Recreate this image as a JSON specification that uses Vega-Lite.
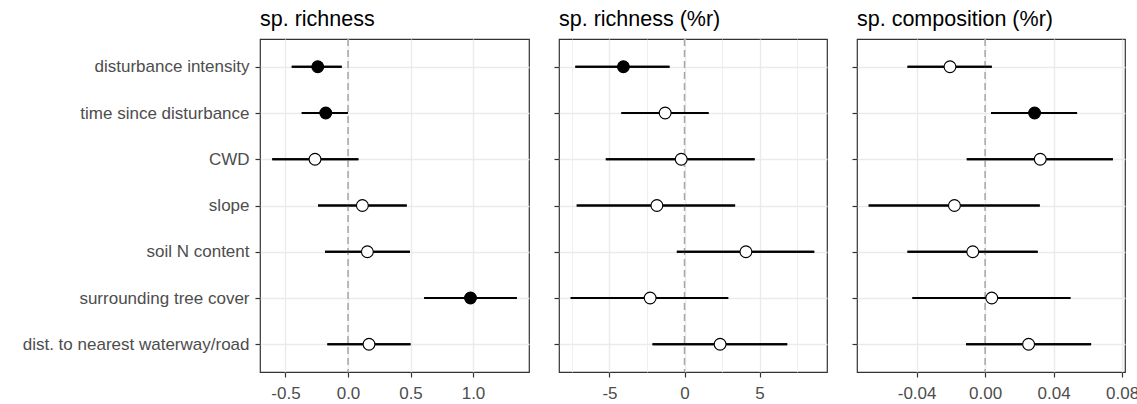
{
  "$schema": "https://vega.github.io/schema/vega-lite/v6.json",
  "padding": {"left": 21, "top": 8, "right": 0, "bottom": 0},
  "background": "white",
  "datasets": {
    "coefs": [
      {"panel": "sp. richness", "var": "disturbance intensity", "est": -0.242, "lo": -0.45, "hi": -0.05, "sig": "yes"},
      {"panel": "sp. richness", "var": "time since disturbance", "est": -0.178, "lo": -0.37, "hi": -0.002, "sig": "yes"},
      {"panel": "sp. richness", "var": "CWD", "est": -0.264, "lo": -0.606, "hi": 0.083, "sig": "no"},
      {"panel": "sp. richness", "var": "slope", "est": 0.115, "lo": -0.24, "hi": 0.47, "sig": "no"},
      {"panel": "sp. richness", "var": "soil N content", "est": 0.155, "lo": -0.184, "hi": 0.496, "sig": "no"},
      {"panel": "sp. richness", "var": "surrounding tree cover", "est": 0.98, "lo": 0.61, "hi": 1.35, "sig": "yes"},
      {"panel": "sp. richness", "var": "dist. to nearest waterway/road", "est": 0.168, "lo": -0.165, "hi": 0.5, "sig": "no"},
      {"panel": "sp. richness (%r)", "var": "disturbance intensity", "est": -4.07, "lo": -7.27, "hi": -1.0, "sig": "yes"},
      {"panel": "sp. richness (%r)", "var": "time since disturbance", "est": -1.29, "lo": -4.2, "hi": 1.6, "sig": "no"},
      {"panel": "sp. richness (%r)", "var": "CWD", "est": -0.22, "lo": -5.24, "hi": 4.67, "sig": "no"},
      {"panel": "sp. richness (%r)", "var": "slope", "est": -1.84, "lo": -7.18, "hi": 3.37, "sig": "no"},
      {"panel": "sp. richness (%r)", "var": "soil N content", "est": 4.09, "lo": -0.51, "hi": 8.64, "sig": "no"},
      {"panel": "sp. richness (%r)", "var": "surrounding tree cover", "est": -2.29, "lo": -7.58, "hi": 2.91, "sig": "no"},
      {"panel": "sp. richness (%r)", "var": "dist. to nearest waterway/road", "est": 2.37, "lo": -2.13, "hi": 6.84, "sig": "no"},
      {"panel": "sp. composition (%r)", "var": "disturbance intensity", "est": -0.0205, "lo": -0.0453, "hi": 0.0039, "sig": "no"},
      {"panel": "sp. composition (%r)", "var": "time since disturbance", "est": 0.0289, "lo": 0.0035, "hi": 0.0537, "sig": "yes"},
      {"panel": "sp. composition (%r)", "var": "CWD", "est": 0.0322, "lo": -0.0107, "hi": 0.0746, "sig": "no"},
      {"panel": "sp. composition (%r)", "var": "slope", "est": -0.0179, "lo": -0.068, "hi": 0.0319, "sig": "no"},
      {"panel": "sp. composition (%r)", "var": "soil N content", "est": -0.0072, "lo": -0.0453, "hi": 0.0307, "sig": "no"},
      {"panel": "sp. composition (%r)", "var": "surrounding tree cover", "est": 0.0039, "lo": -0.0424, "hi": 0.0498, "sig": "no"},
      {"panel": "sp. composition (%r)", "var": "dist. to nearest waterway/road", "est": 0.0254, "lo": -0.0111, "hi": 0.0619, "sig": "no"}
    ]
  },
  "data": {"name": "coefs"},
  "spacing": 22,
  "resolve": {"scale": {"x": "independent"}},
  "hconcat": [
    {
      "title": {"text": "sp. richness"},
      "width": 269,
      "height": 333,
      "transform": [{"filter": "datum.panel == 'sp. richness'"}],
      "layer": [
        {
          "mark": {"type": "rule", "color": "black", "strokeWidth": 1.8},
          "encoding": {
            "x": {
              "field": "lo", "type": "quantitative", "title": null,
              "scale": {"domain": [-0.704, 1.448], "nice": false, "zero": false},
              "axis": {
                "title": null,
                "values": [-0.5, -0.25, 0, 0.25, 0.5, 0.75, 1, 1.25],
                "format": ".1f",
                "labelOverlap": false,
                "labelExpr": "round(datum.value*100) % 50 == 0 ? replace(datum.label, '\u2212', '-') : ''",
                "tickOpacity": {"condition": {"test": "round(datum.value*100) % 50 == 0", "value": 1}, "value": 0},
                "gridWidth": {"condition": {"test": "round(datum.value*100) % 50 == 0", "value": 1.4}, "value": 0.8}
              }
            },
            "x2": {"field": "hi"},
            "y": {
              "field": "var", "type": "nominal", "title": null,
              "sort": ["disturbance intensity", "time since disturbance", "CWD", "slope", "soil N content", "surrounding tree cover", "dist. to nearest waterway/road"],
              "scale": {"type": "point", "padding": 0.6},
              "axis": {"title": null, "labelPadding": 6, "labelLimit": 400}
            }
          }
        },
        {
          "data": {"values": [{}]},
          "mark": {"type": "rule", "color": "#A6A6A6", "strokeDash": [7, 4], "strokeWidth": 1.5},
          "encoding": {"x": {"datum": 0, "type": "quantitative", "title": null}}
        },
        {
          "mark": {"type": "rule", "color": "black", "strokeWidth": 1.8},
          "encoding": {
            "x": {"field": "lo", "type": "quantitative", "title": null},
            "x2": {"field": "hi"},
            "y": {"field": "var", "type": "nominal", "title": null, "sort": ["disturbance intensity", "time since disturbance", "CWD", "slope", "soil N content", "surrounding tree cover", "dist. to nearest waterway/road"]}
          }
        },
        {
          "mark": {"type": "circle", "size": 140, "stroke": "black", "strokeWidth": 1.1, "opacity": 1},
          "encoding": {
            "x": {"field": "est", "type": "quantitative", "title": null},
            "y": {"field": "var", "type": "nominal", "title": null, "sort": ["disturbance intensity", "time since disturbance", "CWD", "slope", "soil N content", "surrounding tree cover", "dist. to nearest waterway/road"]},
            "fill": {"field": "sig", "type": "nominal", "scale": {"domain": ["yes", "no"], "range": ["black", "white"]}, "legend": null}
          }
        }
      ]
    },
    {
      "title": {"text": "sp. richness (%r)"},
      "width": 268,
      "height": 333,
      "transform": [{"filter": "datum.panel == 'sp. richness (%r)'"}],
      "layer": [
        {
          "mark": {"type": "rule", "color": "black", "strokeWidth": 1.8},
          "encoding": {
            "x": {
              "field": "lo", "type": "quantitative", "title": null,
              "scale": {"domain": [-8.36, 9.49], "nice": false, "zero": false},
              "axis": {
                "title": null,
                "values": [-7.5, -5, -2.5, 0, 2.5, 5, 7.5],
                "format": "d",
                "labelOverlap": false,
                "labelExpr": "round(datum.value*10) % 50 == 0 ? replace(format(datum.value, 'd'), '\u2212', '-') : ''",
                "tickOpacity": {"condition": {"test": "round(datum.value*10) % 50 == 0", "value": 1}, "value": 0},
                "gridWidth": {"condition": {"test": "round(datum.value*10) % 50 == 0", "value": 1.4}, "value": 0.8}
              }
            },
            "x2": {"field": "hi"},
            "y": {
              "field": "var", "type": "nominal", "title": null,
              "sort": ["disturbance intensity", "time since disturbance", "CWD", "slope", "soil N content", "surrounding tree cover", "dist. to nearest waterway/road"],
              "scale": {"type": "point", "padding": 0.6},
              "axis": {"title": null, "labels": false}
            }
          }
        },
        {
          "data": {"values": [{}]},
          "mark": {"type": "rule", "color": "#A6A6A6", "strokeDash": [7, 4], "strokeWidth": 1.5},
          "encoding": {"x": {"datum": 0, "type": "quantitative", "title": null}}
        },
        {
          "mark": {"type": "rule", "color": "black", "strokeWidth": 1.8},
          "encoding": {
            "x": {"field": "lo", "type": "quantitative", "title": null},
            "x2": {"field": "hi"},
            "y": {"field": "var", "type": "nominal", "title": null, "sort": ["disturbance intensity", "time since disturbance", "CWD", "slope", "soil N content", "surrounding tree cover", "dist. to nearest waterway/road"]}
          }
        },
        {
          "mark": {"type": "circle", "size": 140, "stroke": "black", "strokeWidth": 1.1, "opacity": 1},
          "encoding": {
            "x": {"field": "est", "type": "quantitative", "title": null},
            "y": {"field": "var", "type": "nominal", "title": null, "sort": ["disturbance intensity", "time since disturbance", "CWD", "slope", "soil N content", "surrounding tree cover", "dist. to nearest waterway/road"]},
            "fill": {"field": "sig", "type": "nominal", "scale": {"domain": ["yes", "no"], "range": ["black", "white"]}, "legend": null}
          }
        }
      ]
    },
    {
      "title": {"text": "sp. composition (%r)"},
      "width": 268,
      "height": 333,
      "transform": [{"filter": "datum.panel == 'sp. composition (%r)'"}],
      "resolve": {"axis": {"x": "independent"}},
      "layer": [
        {
          "mark": {"type": "rule", "color": "black", "strokeWidth": 1.8},
          "encoding": {
            "x": {
              "field": "lo", "type": "quantitative", "title": null,
              "scale": {"domain": [-0.0748, 0.0817], "nice": false, "zero": false},
              "axis": {
                "title": null,
                "orient": "bottom",
                "values": [-0.04, 0, 0.04, 0.08],
                "format": ".2f",
                "labelOverlap": false
              }
            },
            "x2": {"field": "hi"},
            "y": {
              "field": "var", "type": "nominal", "title": null,
              "sort": ["disturbance intensity", "time since disturbance", "CWD", "slope", "soil N content", "surrounding tree cover", "dist. to nearest waterway/road"],
              "scale": {"type": "point", "padding": 0.6},
              "axis": {"title": null, "labels": false}
            }
          }
        },
        {
          "data": {"values": [{}]},
          "mark": {"type": "rule", "color": "#A6A6A6", "strokeDash": [7, 4], "strokeWidth": 1.5},
          "encoding": {
            "x": {
              "datum": 0, "type": "quantitative", "title": null,
              "axis": {
                "title": null,
                "orient": "top",
                "values": [-0.06, -0.02, 0.02, 0.06],
                "labels": false,
                "ticks": false,
                "domain": false,
                "gridWidth": 0.8
              }
            }
          }
        },
        {
          "mark": {"type": "rule", "color": "black", "strokeWidth": 1.8},
          "encoding": {
            "x": {"field": "lo", "type": "quantitative", "title": null, "axis": null},
            "x2": {"field": "hi"},
            "y": {"field": "var", "type": "nominal", "title": null, "sort": ["disturbance intensity", "time since disturbance", "CWD", "slope", "soil N content", "surrounding tree cover", "dist. to nearest waterway/road"]}
          }
        },
        {
          "mark": {"type": "circle", "size": 140, "stroke": "black", "strokeWidth": 1.1, "opacity": 1},
          "encoding": {
            "x": {"field": "est", "type": "quantitative", "title": null, "axis": null},
            "y": {"field": "var", "type": "nominal", "title": null, "sort": ["disturbance intensity", "time since disturbance", "CWD", "slope", "soil N content", "surrounding tree cover", "dist. to nearest waterway/road"]},
            "fill": {"field": "sig", "type": "nominal", "scale": {"domain": ["yes", "no"], "range": ["black", "white"]}, "legend": null}
          }
        }
      ]
    }
  ],
  "config": {
    "font": "Liberation Sans",
    "locale": {"number": {"decimal": ".", "thousands": ",", "grouping": [3], "currency": ["$", ""], "minus": "-"}},
    "view": {"stroke": "#333333", "strokeWidth": 1.2},
    "axis": {
      "labelFont": "Liberation Sans",
      "labelFontSize": 17,
      "labelColor": "#4D4D4D",
      "tickColor": "#333333",
      "tickSize": 5,
      "tickWidth": 1.2,
      "labelPadding": 5,
      "domain": false,
      "grid": true,
      "gridColor": "#EBEBEB",
      "gridWidth": 1.4
    },
    "axisX": {"labelPadding": 8},
    "title": {
      "font": "Liberation Sans",
      "fontSize": 21.5,
      "fontWeight": "normal",
      "color": "black",
      "anchor": "start",
      "frame": "group",
      "offset": 8
    }
  }
}
